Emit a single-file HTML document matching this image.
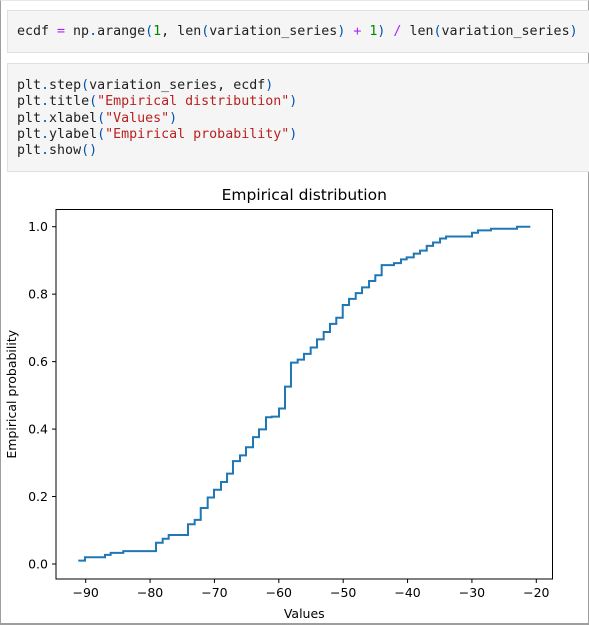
<!DOCTYPE html>
<html><head><meta charset="utf-8"><style>
body{margin:0;width:589px;height:625px;overflow:hidden;background:#fff;position:relative;font-family:"DejaVu Sans","Liberation Sans",sans-serif}
#frame{position:absolute;left:0;top:0;width:587px;height:622px;border-left:1px solid #9e9e9e;border-right:1px solid #9e9e9e;border-bottom:2px solid #9e9e9e;border-top:1px solid #e8e8e8}
.cell{position:absolute;left:7px;width:590px;background:#f5f5f5;border:1px solid #e0e0e0;font-family:"DejaVu Sans Mono","Liberation Mono",monospace;font-size:13.3px;color:#212121;white-space:pre;line-height:16.3px}
.op{color:#aa22ff}.n{color:#008800}.s{color:#ba2121}.p{color:#0055aa}
</style></head><body>
<div id="frame"></div>
<div class="cell" style="top:10px;height:41px;"><div style="position:absolute;left:9px;top:13px">ecdf <span class="op">=</span> np<span class="p">.</span>arange<span class="p">(</span><span class="n">1</span>, len<span class="p">(</span>variation_series<span class="p">)</span> <span class="op">+</span> <span class="n">1</span><span class="p">)</span> <span class="op">/</span> len<span class="p">(</span>variation_series<span class="p">)</span></div></div>
<div class="cell" style="top:63px;height:107px;"><div style="position:absolute;left:9px;top:14px">plt<span class="p">.</span>step<span class="p">(</span>variation_series, ecdf<span class="p">)</span>
plt<span class="p">.</span>title<span class="p">(</span><span class="s">"Empirical distribution"</span><span class="p">)</span>
plt<span class="p">.</span>xlabel<span class="p">(</span><span class="s">"Values"</span><span class="p">)</span>
plt<span class="p">.</span>ylabel<span class="p">(</span><span class="s">"Empirical probability"</span><span class="p">)</span>
plt<span class="p">.</span>show<span class="p">()</span></div></div>
<svg id="chart" width="589" height="625" style="position:absolute;left:0;top:0" font-family="DejaVu Sans, Liberation Sans, sans-serif"></svg>
<script>
const values=[-91.15,-90.11,-87.0,-86.12,-84.16,-79.08,-78.04,-77.11,-74.11,-73.07,-72.13,-71.05,-70.07,-68.98,-68.04,-67.12,-66.03,-65.1,-64.01,-63.08,-61.99,-61.1,-59.97,-59.04,-58.11,-57.07,-56.09,-55.05,-54.07,-53.03,-52.05,-51.07,-50.07,-49.09,-48.05,-47.07,-45.98,-45.01,-44.02,-42.11,-41.02,-40.14,-39.04,-38.06,-37.02,-36.04,-34.95,-34.02,-29.99,-29.06,-27.04,-23.0,-20.93];
const ecdf=[0.01,0.02,0.027,0.033,0.038,0.063,0.075,0.086,0.118,0.131,0.166,0.197,0.22,0.243,0.268,0.305,0.322,0.346,0.376,0.399,0.435,0.437,0.461,0.526,0.597,0.606,0.623,0.642,0.666,0.688,0.712,0.73,0.768,0.786,0.803,0.82,0.839,0.856,0.886,0.892,0.903,0.909,0.92,0.929,0.943,0.953,0.965,0.971,0.982,0.989,0.994,1.0,1.0];
const xTicks=[-90,-80,-70,-60,-50,-40,-30,-20];
const yTicks=[0.0,0.2,0.4,0.6,0.8,1.0];
const svg=document.getElementById('chart');
const NS='http://www.w3.org/2000/svg';
const L=56,R=552.5,T=209.5,B=579;
const xs=v=>85.7+(v+90)*6.437;
const ys=v=>564-v*337.3;
function mk(tag,attrs){const e=document.createElementNS(NS,tag);for(const k in attrs)e.setAttribute(k,attrs[k]);svg.appendChild(e);return e;}
let d='M'+xs(values[0])+','+ys(ecdf[0]);
for(let i=1;i<values.length;i++){d+=' H'+xs(values[i])+' V'+ys(ecdf[i]);}
const line=mk('path',{d:d,fill:'none',stroke:'#1f77b4','stroke-width':2});


const fr=mk('rect',{x:L,y:T,width:R-L,height:B-T,fill:'none',stroke:'#000','stroke-width':1});


xTicks.forEach(t=>{const x=xs(t);
 mk('line',{x1:x,x2:x,y1:B,y2:B+4,stroke:'#000','stroke-width':1});
 const tx=mk('text',{x:x,y:B+18,'text-anchor':'middle','font-size':12.5,fill:'#000'});tx.textContent=String(t).replace('-','\u2212');
 
 });
yTicks.forEach(t=>{const y=ys(t);
 mk('line',{x1:L,x2:L-4,y1:y,y2:y,stroke:'#000','stroke-width':1});
 const tx=mk('text',{x:L-8,y:y+4.5,'text-anchor':'end','font-size':12.5,fill:'#000'});tx.textContent=t.toFixed(1);
 
 });
const ti=mk('text',{x:(L+R)/2,y:200,'text-anchor':'middle','font-size':15.5,fill:'#000'});ti.textContent='Empirical distribution';


const xl=mk('text',{x:(L+R)/2,y:618,'text-anchor':'middle','font-size':12.5,fill:'#000'});xl.textContent='Values';


const yl=mk('text',{x:16,y:(T+B)/2,'text-anchor':'middle','font-size':12.5,fill:'#000',transform:'rotate(-90 16 '+((T+B)/2)+')'});yl.textContent='Empirical probability';


</script>
</body></html>
